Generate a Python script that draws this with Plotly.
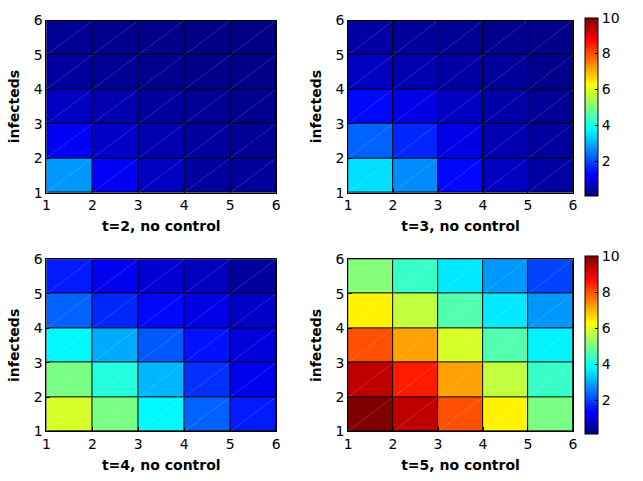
import plotly.graph_objects as go

# grid edges (time-ish axis 1..6, infecteds 1..6)
x_edges = [1, 2, 3, 4, 5, 6]
y_edges = [1, 2, 3, 4, 5, 6]
titles = ["t=2, no control", "t=3, no control", "t=4, no control", "t=5, no control"]
cbar_ticks = [2, 4, 6, 8, 10]

# values: rows = infecteds bins from bottom (1-2) to top (5-6); cols = x bins 1-2 .. 5-6
z_t2 = [
    [2.8, 1.25, 0.75, 0.4, 0.35],
    [1.25, 0.8, 0.55, 0.4, 0.3],
    [0.75, 0.55, 0.4, 0.3, 0.25],
    [0.4, 0.3, 0.25, 0.2, 0.2],
    [0.3, 0.25, 0.2, 0.15, 0.15],
]
z_t3 = [
    [3.5, 2.7, 1.4, 0.75, 0.45],
    [2.3, 1.7, 1.1, 0.6, 0.4],
    [1.4, 1.1, 0.75, 0.5, 0.3],
    [0.75, 0.55, 0.45, 0.35, 0.25],
    [0.45, 0.35, 0.3, 0.25, 0.2],
]
z_t4 = [
    [5.9, 5.0, 3.75, 2.3, 1.6],
    [5.0, 4.15, 3.1, 1.8, 1.2],
    [3.75, 3.0, 2.2, 1.5, 1.0],
    [2.3, 1.7, 1.4, 1.1, 0.8],
    [1.6, 1.2, 0.9, 0.7, 0.4],
]
z_t5 = [
    [10.0, 9.4, 8.0, 6.4, 5.0],
    [9.4, 8.5, 7.2, 5.7, 4.35],
    [8.0, 7.2, 5.9, 4.6, 3.7],
    [6.4, 5.7, 4.6, 3.6, 2.8],
    [5.1, 4.35, 3.6, 2.8, 2.0],
]
zs = [z_t2, z_t3, z_t4, z_t5]

jet = [
    [0.0, "rgb(0,0,128)"],
    [0.125, "rgb(0,0,255)"],
    [0.375, "rgb(0,255,255)"],
    [0.625, "rgb(255,255,0)"],
    [0.875, "rgb(255,0,0)"],
    [1.0, "rgb(128,0,0)"],
]

W, H = 643, 481
xdoms = [[43 / W, 276 / W], [349 / W, 577 / W]]
ydoms = [[1 - 191 / H, 1 - 13 / H], [1 - 438 / H, 1 - 260 / H]]

fig = go.Figure()
font = dict(family="DejaVu Sans, sans-serif", size=14, color="black")

for k, z in enumerate(zs):
    r, c = divmod(k, 2)
    ax = "" if k == 0 else str(k + 1)
    fig.add_trace(go.Heatmap(
        x=x_edges, y=y_edges, z=z, xgap=1, ygap=1,
        coloraxis="coloraxis" if r == 0 else "coloraxis2",
        xaxis="x" + ax, yaxis="y" + ax, hoverinfo="skip",
    ))
    # faint diagonal rendering lines within each cell
    dx, dy = [], []
    for i in range(len(x_edges) - 1):
        for j in range(len(y_edges) - 1):
            dx += [x_edges[i], x_edges[i + 1], None]
            dy += [y_edges[j], y_edges[j + 1], None]
    fig.add_trace(go.Scatter(
        x=dx, y=dy, mode="lines", line=dict(color="rgba(255,255,255,0.3)", width=0.5),
        xaxis="x" + ax, yaxis="y" + ax, hoverinfo="skip", showlegend=False,
    ))
    axcommon = dict(showline=True, linecolor="black", linewidth=1, mirror=True,
                    ticks="inside", ticklen=4, tickcolor="black", showgrid=False,
                    zeroline=False, tickfont=font, tickvals=x_edges)
    fig.update_layout(**{
        "xaxis" + ax: dict(domain=xdoms[c], range=[1, 6], anchor="y" + ax,
                           title=dict(text="<b>" + titles[k] + "</b>", font=font, standoff=8),
                           **axcommon),
        "yaxis" + ax: dict(domain=ydoms[r], range=[1, 6], anchor="x" + ax,
                           title=dict(text="<b>infecteds</b>", font=font, standoff=10),
                           **axcommon),
    })

for idx, r in enumerate([0, 1]):
    ymid = (ydoms[r][0] + ydoms[r][1]) / 2
    cb = dict(
        x=589 / W, xanchor="left", xpad=0, y=ymid, yanchor="middle", ypad=0,
        thickness=13, thicknessmode="pixels", len=178, lenmode="pixels",
        outlinecolor="black", outlinewidth=1, tickvals=cbar_ticks,
        ticks="inside", ticklen=3, tickcolor="black", tickfont=font,
    )
    fig.update_layout(**{
        ("coloraxis" if idx == 0 else "coloraxis2"): dict(
            colorscale=jet, cmin=0.1, cmax=10, colorbar=cb)
    })

fig.update_layout(
    width=W, height=H, margin=dict(l=0, r=0, t=0, b=0),
    paper_bgcolor="white", plot_bgcolor="black", showlegend=False, font=font,
)

fig.write_html("out.html")
